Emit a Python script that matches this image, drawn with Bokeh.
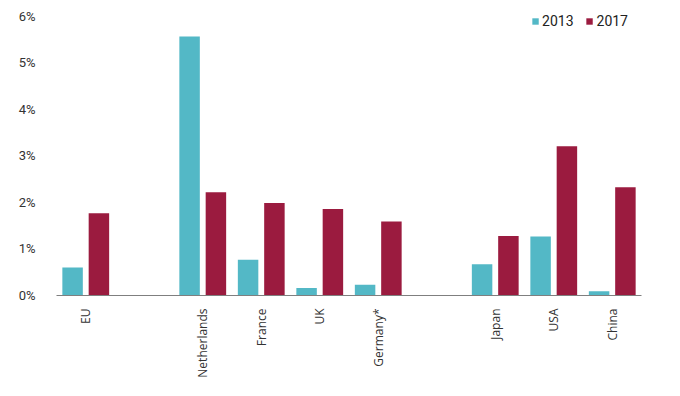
import math
from bokeh.plotting import figure
from bokeh.models import ColumnDataSource, FactorRange, Range1d, FixedTicker, Legend, LegendItem
from bokeh.transform import dodge
from bokeh.embed import file_html
from bokeh.resources import INLINE

# Data
categories = ["EU", "Netherlands", "France", "UK", "Germany*", "Japan", "USA", "China"]
axis_factors = ["EU", " ", "Netherlands", "France", "UK", "Germany*", "  ", "Japan", "USA", "China"]
values_2013 = [0.60, 5.57, 0.77, 0.16, 0.23, 0.67, 1.27, 0.09]
values_2017 = [1.77, 2.22, 1.99, 1.86, 1.59, 1.28, 3.21, 2.33]
y_ticks = [0, 1, 2, 3, 4, 5, 6]
y_tick_labels = {t: f"{t}%" for t in y_ticks}

TEAL = "#53B8C6"
CRIMSON = "#9B1B3F"

source = ColumnDataSource(dict(cat=categories, v2013=values_2013, v2017=values_2017))

p = figure(
    width=664, height=380,
    x_range=FactorRange(factors=axis_factors, range_padding=0),
    y_range=Range1d(0, 6.343),
    output_backend="svg", toolbar_location=None,
    min_border_left=56, min_border_right=23, min_border_top=0, min_border_bottom=80,
)
p.outline_line_color = None
p.background_fill_color = "white"
p.border_fill_color = "white"
p.xgrid.visible = False
p.ygrid.visible = False

r1 = p.vbar(x=dodge("cat", -0.225, range=p.x_range), top="v2013", width=0.35,
            source=source, fill_color=TEAL, line_color=None)
r2 = p.vbar(x=dodge("cat", 0.225, range=p.x_range), top="v2017", width=0.35,
            source=source, fill_color=CRIMSON, line_color=None)

# Y axis
p.yaxis.ticker = FixedTicker(ticks=y_ticks)
p.yaxis.major_label_overrides = y_tick_labels
p.yaxis.axis_line_color = None
p.yaxis.major_tick_line_color = None
p.yaxis.minor_tick_line_color = None
p.yaxis.major_label_standoff = 15
p.yaxis.major_label_text_font = "Roboto"
p.yaxis.major_label_text_font_size = "13px"
p.yaxis.major_label_text_color = "#333333"

# X axis
p.xaxis.axis_line_color = "#7f7f7f"
p.xaxis.axis_line_width = 1
p.xaxis.major_tick_line_color = None
p.xaxis.minor_tick_line_color = None
p.xaxis.major_label_orientation = math.pi / 2
p.xaxis.major_label_standoff = 7
p.xaxis.major_label_text_font = "Open Sans"
p.xaxis.major_label_text_font_size = "12px"
p.xaxis.major_label_text_color = "#333333"

legend = Legend(items=[LegendItem(label="2013", renderers=[r1]),
                       LegendItem(label="2017", renderers=[r2])],
                orientation="horizontal", location="top_right")
legend.border_line_color = None
legend.background_fill_alpha = 0
legend.label_text_font = "Roboto"
legend.label_text_font_size = "14px"
legend.label_text_color = "#222222"
legend.label_height = 15
legend.glyph_width = 8
legend.glyph_height = 8
legend.label_standoff = 3
legend.spacing = 12
legend.margin = 13
legend.padding = 0
p.add_layout(legend)

open("out.html", "w").write(file_html(p, INLINE))
